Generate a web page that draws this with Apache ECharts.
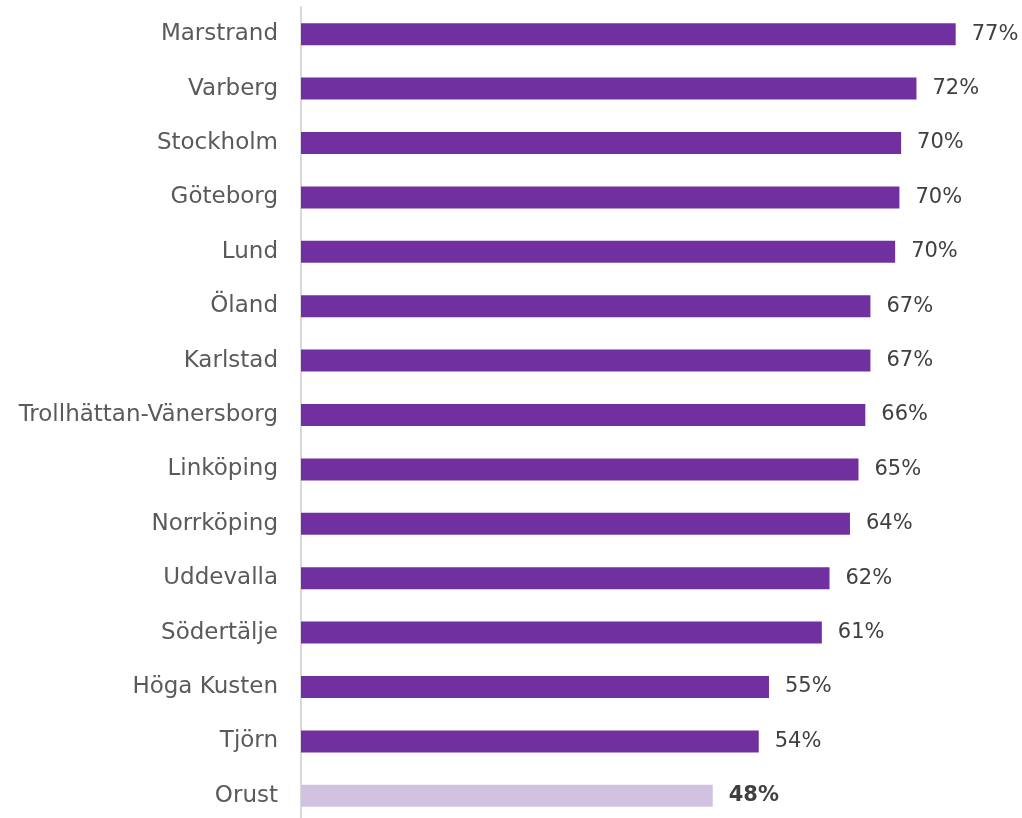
<!DOCTYPE html>
<html>
<head>
<meta charset="utf-8">
<script src="https://cdn.jsdelivr.net/npm/echarts@6/dist/echarts.min.js"></script>
<style>
  html, body { margin: 0; padding: 0; background: #fff; }
  #chart { width: 1022px; height: 818px; }
</style>
</head>
<body>
<div id="chart"></div>
<script>
// cities, top to bottom
const cities = ['Marstrand', 'Varberg', 'Stockholm', 'Göteborg', 'Lund', 'Öland', 'Karlstad',
  'Trollhättan-Vänersborg', 'Linköping', 'Norrköping', 'Uddevalla', 'Södertälje',
  'Höga Kusten', 'Tjörn', 'Orust']
// share in percent (labels show the rounded value)
const shares = [76.8, 72.2, 70.4, 70.2, 69.7, 66.8, 66.8, 66.2, 65.4, 64.4, 62.0, 61.1, 54.9, 53.7, 48.3]
const highlight = 'Orust'

const chart = echarts.init(document.getElementById('chart'))

const option = {
  animation: false,
  grid: {
    left: 301,
    top: 7,
    width: 699,
    height: 816,
    outerBoundsMode: 'none'
  },
  xAxis: {
    type: 'value',
    min: 0,
    max: 82,
    show: false
  },
  yAxis: {
    type: 'category',
    data: cities,
    inverse: true,
    axisLine: { show: true, lineStyle: { color: '#d9d9d9', width: 2 } },
    axisTick: { show: false },
    axisLabel: {
      color: '#5a5a5a',
      fontFamily: 'DejaVu Sans',
      fontSize: 23,
      margin: 23
    }
  },
  series: [
    {
      type: 'bar',
      barWidth: 22,
      data: shares.map((v, i) => ({
        value: v,
        itemStyle: { color: cities[i] === highlight ? '#d1c2e2' : '#7030a0' },
        label: cities[i] === highlight ? { fontWeight: 'bold', color: '#404040' } : {}
      })),
      label: {
        show: true,
        position: 'right',
        distance: 16,
        color: '#404040',
        fontFamily: 'DejaVu Sans',
        fontSize: 21,
        formatter: (p) => Math.round(p.value) + '%'
      }
    }
  ]
}
chart.setOption(option)
</script>
</body>
</html>
